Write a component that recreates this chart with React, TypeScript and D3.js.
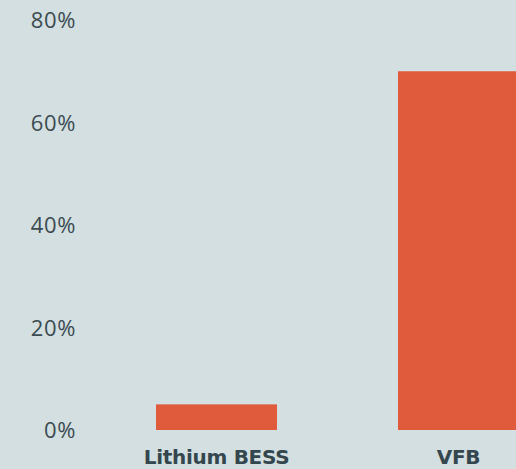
import React from "react";
import * as d3 from "d3";

const categories = ["Lithium BESS", "VFB"];
const values = [5, 70];
const yTicks = [0, 20, 40, 60, 80];

const W = 516;
const H = 469;

export default function App() {
  const y = d3.scaleLinear().domain([0, 80]).range([430, 20]);
  const x = d3
    .scaleBand<string>()
    .domain(categories)
    .range([95.5, 579.5])
    .paddingInner(0.5)
    .paddingOuter(0.25);
  return (
    <svg
      width={W}
      height={H}
      style={{ position: "absolute", left: 0, top: 0, background: "#d3dfe0" }}
    >
      <rect x={0} y={0} width={W} height={H} fill="#d3dfe0" />
      {yTicks.map((t) => (
        <text
          key={t}
          x={76}
          y={y(t) + 8}
          textAnchor="end"
          fontFamily="'Open Sans', sans-serif"
          fontSize={22}
          letterSpacing={0.6}
          fill="#3b4b52"
        >
          {t}%
        </text>
      ))}
      {categories.map((c, i) => (
        <rect
          key={c}
          x={x(c)}
          y={y(values[i])}
          width={x.bandwidth()}
          height={y(0) - y(values[i])}
          fill="#e05a3c"
        />
      ))}
      {categories.map((c) => (
        <text
          key={c}
          x={(x(c) as number) + x.bandwidth() / 2}
          y={464}
          textAnchor="middle"
          fontFamily="DejaVu Sans"
          fontWeight="bold"
          fontSize={20}
          letterSpacing={-0.3}
          fill="#34464e"
        >
          {c}
        </text>
      ))}
    </svg>
  );
}
